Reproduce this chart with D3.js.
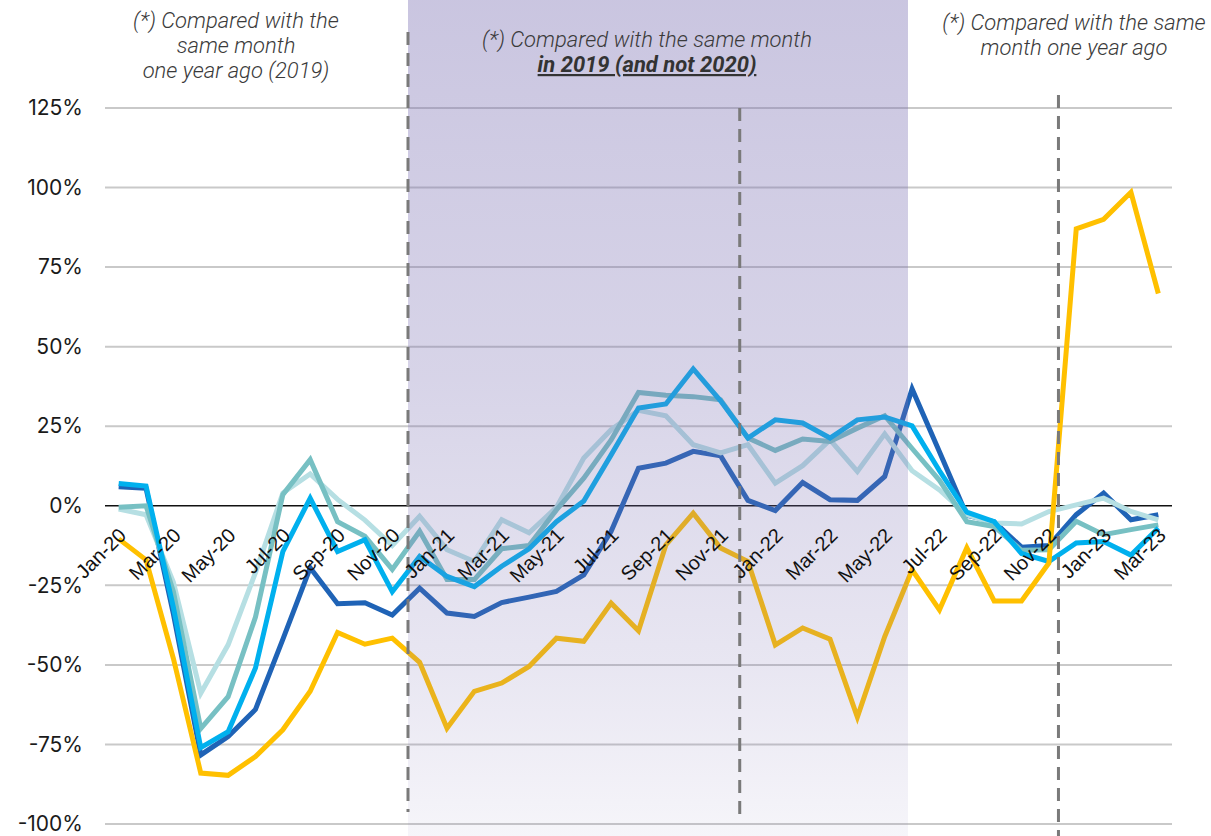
<!DOCTYPE html>
<html>
<head>
<meta charset="utf-8">
<script src="https://cdn.jsdelivr.net/npm/d3@7"></script>
<style>
  html, body { margin: 0; padding: 0; background: #ffffff; }
  svg { display: block; }
</style>
</head>
<body>
<svg id="chart" width="1211" height="836"></svg>
<script>
// Monthly change (%) versus the reference month
const months = [
  "Jan-20","Feb-20","Mar-20","Apr-20","May-20","Jun-20","Jul-20","Aug-20","Sep-20","Oct-20","Nov-20","Dec-20",
  "Jan-21","Feb-21","Mar-21","Apr-21","May-21","Jun-21","Jul-21","Aug-21","Sep-21","Oct-21","Nov-21","Dec-21",
  "Jan-22","Feb-22","Mar-22","Apr-22","May-22","Jun-22","Jul-22","Aug-22","Sep-22","Oct-22","Nov-22","Dec-22",
  "Jan-23","Feb-23","Mar-23"
];

const darkBlue = [
  6, 5.5, -34, -78.3, -72.5, -64, -42, -19.5, -30.8, -30.5, -34.3, -25.9,
  -33.7, -34.8, -30.4, -28.7, -26.9, -21.7, -8, 11.8, 13.4, 17.1, 15.7, 1.7,
  -1.5, 7.3, 1.9, 1.7, 9.2, 36.7, 17, -3, -5, -13, -12.5, -2.8,
  4, -4.4, -2.8
];

const brightBlue = [
  7, 6.2, -32, -76, -71, -51, -14.4, 2.4, -14.4, -10.7, -27, -15.9,
  -22.2, -25.4, -19, -13.5, -5, 1.5, 16, 30.7, 32, 43, 33, 21.3,
  27, 26, 21.3, 27, 27.9, 25.1, 11, -2, -5, -15, -17.5, -11.7,
  -11.2, -15.5, -7
];

const teal = [
  -0.5, 0, -27, -70, -60, -35, 3.5, 14.5, -5, -9.6, -20, -8,
  -23.2, -23.2, -13.5, -12.5, -1.3, 8.7, 20.7, 35.6, 34.7, 34.3, 33.3, 21.3,
  17.4, 21, 20.2, 24.4, 28.3, 18, 8, -5, -6.5, -14, -13.8, -4.9,
  -9.1, -7.5, -6
];

const lightCyan = [
  -1, -2.8, -24, -58.9, -43.7, -21, 4, 10, 2, -4.5, -12.5, -3.3,
  -13.8, -17.5, -4.4, -8.5, -0.5, 15, 23.9, 30, 28.3, 19.2, 16.6, 19.2,
  7.1, 12.6, 20.7, 10.8, 22.6, 11, 5, -2.8, -5.4, -5.7, -1.8, 0.3,
  2.4, -1.8, -4.4
];

const yellow = [
  -10.4, -17, -48, -84, -84.7, -78.8, -70.4, -58.3, -39.8, -43.5, -41.6, -49.2,
  -69.9, -58.3, -55.7, -50.5, -41.6, -42.6, -30.6, -39.3, -12.3, -2.3, -13.3, -17.5,
  -43.7, -38.4, -41.9, -66.4, -41.1, -20.1, -32.7, -13.2, -29.9, -29.9, -18, 87,
  90, 98.5, 66.7
];

const yTicks = [-100, -75, -50, -25, 0, 25, 50, 75, 100, 125];

// Series in drawing order (later ones sit on top)
const series = [
  { values: darkBlue,   color: "#1f63b6" },
  { values: lightCyan,  color: "#b6dfe3" },
  { values: teal,       color: "#77c0c3" },
  { values: brightBlue, color: "#00b0ee" },
  { values: yellow,     color: "#ffc000" }
];

const svg = d3.select("#chart");
const W = 1211, H = 836;

const x = d3.scaleLinear().domain([-0.5, months.length - 0.5]).range([105, 1172]);
const y = d3.scaleLinear().domain([-100, 125]).range([824, 108]);

// Horizontal gridlines
svg.append("g")
  .selectAll("line")
  .data(yTicks.filter(d => d !== 0))
  .join("line")
  .attr("x1", x(-0.5)).attr("x2", x(months.length - 0.5))
  .attr("y1", d => y(d)).attr("y2", d => y(d))
  .attr("stroke", "#c9c9c9")
  .attr("stroke-width", 2);

// Zero baseline
svg.append("line")
  .attr("x1", x(-0.5)).attr("x2", x(months.length - 0.5))
  .attr("y1", y(0)).attr("y2", y(0))
  .attr("stroke", "#111")
  .attr("stroke-width", 1.6);

// Y axis labels
const yAxis = d3.axisLeft(y).tickValues(yTicks).tickFormat(d => d + "%").tickSize(0).tickPadding(0);
const yg = svg.append("g").attr("transform", "translate(83,0)").call(yAxis);
yg.select(".domain").remove();
yg.selectAll("text")
  .attr("font-family", "Inter, 'Noto Sans', sans-serif")
  .attr("font-size", 21)
  .attr("fill", "#1a1a1a");

// Series lines
const line = d3.line().x((d, i) => x(i)).y(d => y(d));
svg.append("g")
  .selectAll("path")
  .data(series)
  .join("path")
  .attr("d", d => line(d.values))
  .attr("fill", "none")
  .attr("stroke", d => d.color)
  .attr("stroke-width", 5)
  .attr("stroke-linejoin", "miter")
  .attr("stroke-miterlimit", 4);

// Shaded period overlay (fades toward the bottom)
const defs = svg.append("defs");
const grad = defs.append("linearGradient")
  .attr("id", "shade")
  .attr("gradientUnits", "userSpaceOnUse")
  .attr("x1", 0).attr("x2", 0).attr("y1", 0).attr("y2", H);
[[0, 0.40], [0.45, 0.30], [0.8, 0.17], [1, 0.07]].forEach(([o, a]) => {
  grad.append("stop").attr("offset", o).attr("stop-color", "#7a6fb2").attr("stop-opacity", a);
});
const shadeStart = 10.575, shadeEnd = 28.85;
svg.append("rect")
  .attr("x", x(shadeStart)).attr("y", 0)
  .attr("width", x(shadeEnd) - x(shadeStart)).attr("height", H)
  .attr("fill", "url(#shade)");

// Period dividers
const dividers = [
  { pos: 10.575, top: 32, bottom: 812 },
  { pos: 22.7,   top: 108, bottom: 818 },
  { pos: 34.35,  top: 95, bottom: 836 }
];
svg.append("g")
  .selectAll("line")
  .data(dividers)
  .join("line")
  .attr("x1", d => x(d.pos)).attr("x2", d => x(d.pos))
  .attr("y1", d => d.top).attr("y2", d => d.bottom)
  .attr("stroke", "#7a7a7a")
  .attr("stroke-width", 3)
  .attr("stroke-dasharray", "13,8");

// X axis labels (every second month)
svg.append("g")
  .selectAll("text")
  .data(months.map((m, i) => ({ m, i })).filter(d => d.i % 2 === 0))
  .join("text")
  .attr("transform", d => `translate(${x(d.i) + 5},${y(0) + 27}) rotate(-45)`)
  .attr("text-anchor", "end")
  .attr("dominant-baseline", "middle")
  .attr("font-family", "'Liberation Sans', Arial, sans-serif")
  .attr("font-size", 20)
  .attr("fill", "#111")
  .text(d => d.m);

// Period notes
const noteFont = "Roboto, 'Open Sans', sans-serif";
function note(lines, cx, y0, dy) {
  const t = svg.append("text")
    .attr("text-anchor", "middle")
    .attr("font-family", noteFont)
    .attr("font-size", 22)
    .attr("font-style", "italic")
    .attr("font-weight", 300)
    .attr("fill", "#3a3a3a");
  lines.forEach((l, k) => {
    const ts = t.append("tspan").attr("x", cx).attr("y", y0 + k * dy).text(l.text);
    if (l.bold) ts.attr("font-weight", 700).attr("text-decoration", "underline").attr("fill", "#333");
  });
}
note([{ text: "(*) Compared with the" }, { text: "same month" }, { text: "one year ago (2019)" }], 236, 28, 25);
note([{ text: "(*) Compared with the same month" }, { text: "in 2019 (and not 2020)", bold: true }], 647, 47, 25);
note([{ text: "(*) Compared with the same" }, { text: "month one year ago" }], 1074, 30, 25);
</script>
</body>
</html>
